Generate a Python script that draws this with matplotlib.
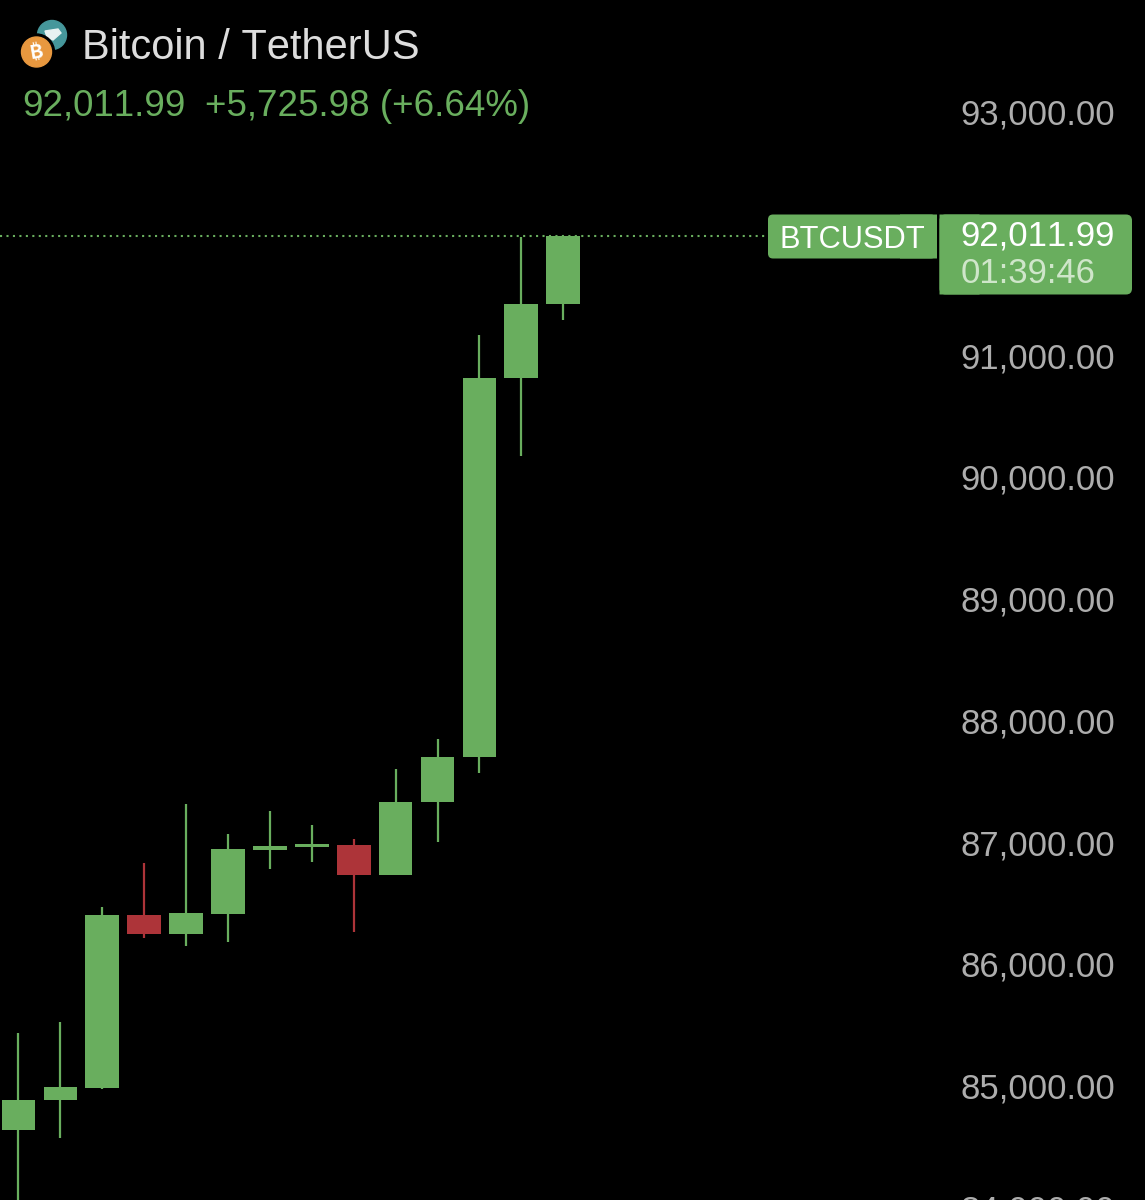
#!/usr/bin/env python3

from __future__ import annotations

import matplotlib
matplotlib.use("Agg")
import matplotlib.pyplot as plt
from matplotlib.patches import Circle, FancyBboxPatch, Polygon, Rectangle
from matplotlib.transforms import ScaledTranslation

# candles, oldest first
opens = [84665, 84913, 85015, 86430, 86274, 86445, 86964, 86994, 87008, 86759, 87361, 87727, 90844, 91451]
highs = [85464, 85552, 86501, 86858, 87342, 87098, 87285, 87170, 87055, 87632, 87879, 91197, 92002, 92012]
lows = [83846, 84599, 85006, 86246, 86181, 86209, 86813, 86866, 86296, 86759, 87033, 87599, 90203, 91320]
closes = [84911, 85018, 86430, 86274, 86449, 86973, 87000, 87014, 86759, 87361, 87727, 90844, 91451, 92011.99]

price_ticks = [84000, 85000, 86000, 87000, 88000, 89000, 90000, 91000, 93000]
last_price = 92011.99

GREEN = "#69ae5e"
RED = "#ad3439"
FONT = "Liberation Sans"

# tabular looking digits, the app does not kern "11"
plt.rcParams["text.kerning_factor"] = 6


def main() -> None:
    fig = plt.figure(figsize=(11.45, 12), dpi=100, facecolor="black")

    # main axes runs a bit below the figure so the 84,000 label gets cut off like the screenshot
    ax = fig.add_axes([0, -25 / 1200, 1, 1225 / 1200], facecolor="black")
    ax.set_xlim(-0.4415, 26.885)
    ax.set_ylim(83887, 93949)
    ax.xaxis.set_visible(False)
    for spine in ax.spines.values():
        spine.set_visible(False)

    ax.yaxis.tick_right()
    ax.set_yticks(price_ticks)
    ax.set_yticklabels([f"{t:,.2f}" for t in price_ticks], family=FONT, fontsize=25, color="#adadad",
                       ha="right", va="center_baseline")
    ax.tick_params(axis="y", length=0, pad=-21.6)
    # labels sit a little above the price they mark
    nudge = ScaledTranslation(0, 4 / 100, fig.dpi_scale_trans)
    for label in ax.get_yticklabels():
        label.set_transform(label.get_transform() + nudge)

    ax.axhline(last_price, xmax=768 / 1145, color=GREEN, lw=1.5, ls=(0, (1, 2.1)), zorder=1)

    for i, (o, h, l, c) in enumerate(zip(opens, highs, lows, closes)):
        color = GREEN if c >= o else RED
        ax.vlines(i, l, h, color=color, lw=1.6, zorder=2)
        ax.bar(i, abs(c - o), bottom=min(o, c), width=0.805, color=color, zorder=3)

    # overlay in screen pixels for the header and the price labels
    top = fig.add_axes([0, 0, 1, 1])
    top.set_xlim(0, 1145)
    top.set_ylim(1200, 0)
    top.set_axis_off()

    # coin icons
    top.add_patch(Circle((52, 35), 14.5, color="#46979b"))
    top.add_patch(Polygon([[45, 31], [58, 29], [61, 33], [53, 40], [47, 37]], color="#e8f2f2"))
    top.add_patch(Circle((36.5, 52), 18, color="black"))
    top.add_patch(Circle((36.5, 52), 15, color="#e8983f"))
    top.text(36.5, 52.5, "\u20bf", family=["Inter", "Noto Sans", "DejaVu Sans"], fontsize=14, color="white",
             ha="center", va="center", rotation=10, fontweight="bold")

    top.text(81.5, 43.5, "Bitcoin / TetherUS", family=FONT, fontsize=30, color="#dddddd", va="center_baseline")
    top.text(22, 102.5, "92,011.99", family=FONT, fontsize=26.5, color=GREEN, va="center_baseline")
    top.text(205, 102.5, "+5,725.98 (+6.64%)", family=FONT, fontsize=26.5, color=GREEN, va="center_baseline")

    # BTCUSDT tag, square on the right
    top.add_patch(FancyBboxPatch((772, 218.5), 160, 36, boxstyle="round,pad=4,rounding_size=5", color=GREEN, lw=0, zorder=4, snap=False))
    top.add_patch(Rectangle((900, 214.5), 37, 44, color=GREEN, lw=0, zorder=4, snap=False))
    top.text(780, 236, "BTCUSDT", family=FONT, fontsize=22.2, color="white", va="center_baseline", zorder=5)

    # price tag, square on the left
    top.add_patch(FancyBboxPatch((944, 219), 183.5, 71, boxstyle="round,pad=4.5,rounding_size=6", color=GREEN, lw=0, zorder=4, snap=False))
    top.add_patch(Rectangle((939.5, 214.5), 40, 80, color=GREEN, lw=0, zorder=4, snap=False))
    top.text(1115, 233, f"{last_price:,.2f}", family=FONT, fontsize=25, color="white", ha="right", va="center_baseline", zorder=5)
    top.text(961, 270, "01:39:46", family=FONT, fontsize=25, color="#cfe6ca", va="center_baseline", zorder=5)

    fig.savefig("out.png", dpi=100, facecolor="black")
    plt.close(fig)


if __name__ == "__main__":
    main()
